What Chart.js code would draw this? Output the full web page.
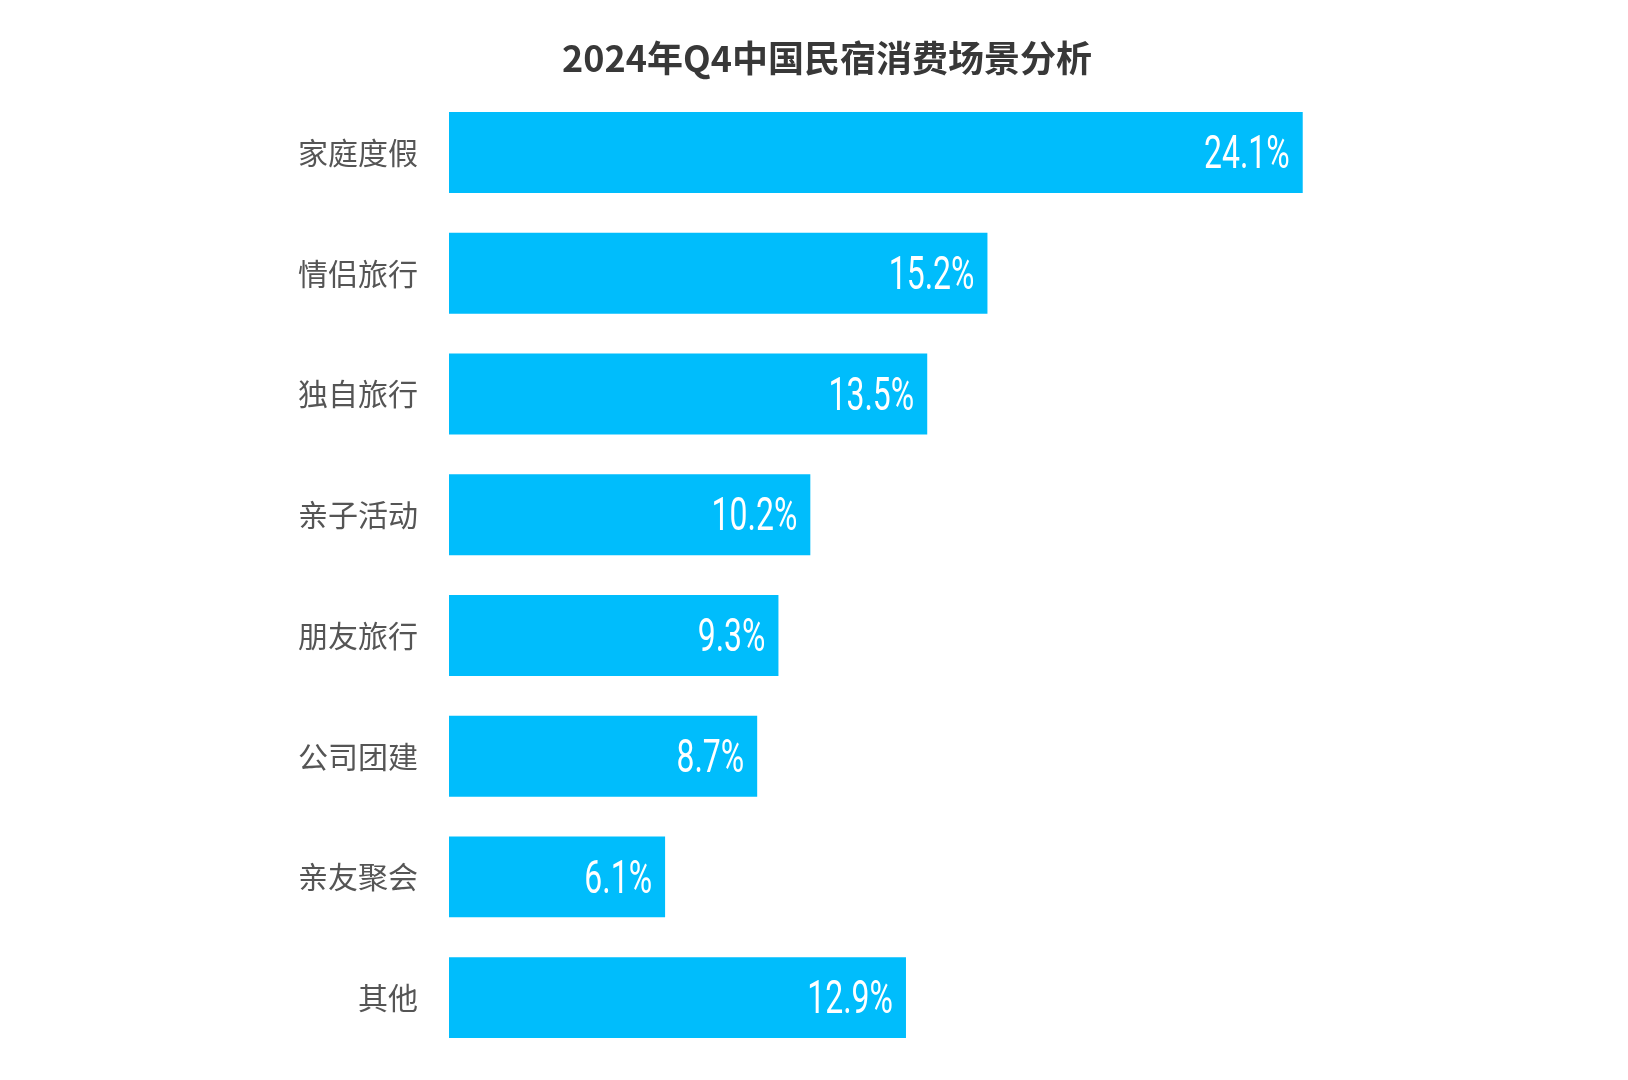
<!DOCTYPE html>
<html>
<head>
<meta charset="utf-8">
<script src="https://cdn.jsdelivr.net/npm/chart.js@4.4.0/dist/chart.umd.min.js"></script>
<style>
  html, body { margin: 0; padding: 0; background: #fff; }
  #wrap { width: 1628px; height: 1080px; }
</style>
</head>
<body>
<div id="wrap"><canvas id="mainChart" width="1628" height="1080"></canvas></div>
<script>
// Chart data
const titleText = '2024年Q4中国民宿消费场景分析';
const scenes = ['家庭度假', '情侣旅行', '独自旅行', '亲子活动', '朋友旅行', '公司团建', '亲友聚会', '其他'];
const shares = [24.1, 15.2, 13.5, 10.2, 9.3, 8.7, 6.1, 12.9];

// Value labels drawn inside the bar end (squeezed to look condensed)
const valueLabels = {
    id: 'valueLabels',
    afterDatasetsDraw(chart) {
        const ctx = chart.ctx;
        const meta = chart.getDatasetMeta(0);
        const squeeze = 0.68;
        meta.data.forEach((bar, i) => {
            ctx.save();
            ctx.translate(bar.x - 13, bar.y + 4);
            ctx.scale(squeeze, 1);
            ctx.fillStyle = '#ffffff';
            ctx.font = '47px Roboto, sans-serif';
            ctx.textAlign = 'right';
            ctx.textBaseline = 'middle';
            ctx.fillText(shares[i].toFixed(1) + '%', 0, 0);
            ctx.restore();
        });
    }
};

const ctx = document.getElementById('mainChart').getContext('2d');
new Chart(ctx, {
    type: 'bar',
    data: {
        labels: scenes,
        datasets: [{
            data: shares,
            backgroundColor: '#00bdfc',
            borderWidth: 0,
            barPercentage: 0.67,
            categoryPercentage: 1
        }]
    },
    options: {
        indexAxis: 'y',
        responsive: false,
        animation: false,
        layout: { padding: { left: 36, right: 10, top: 0, bottom: 22 } },
        plugins: {
            legend: { display: false },
            tooltip: { enabled: false },
            title: {
                display: true,
                text: titleText,
                color: '#383838',
                font: { size: 36, weight: 'bold', family: '"Noto Sans CJK SC", sans-serif' },
                padding: { top: 37, bottom: 12 }
            }
        },
        scales: {
            x: {
                min: 0,
                max: 33,
                afterFit(scale) { scale.height = 0; },
                border: { display: false },
                grid: { display: false, drawTicks: false },
                ticks: { display: false }
            },
            y: {
                afterFit(scale) { scale.width = 413; },
                border: { display: false },
                // tick marks stay hidden; tickLength only spaces labels from the bars
                grid: { display: false, drawTicks: true, tickLength: 31 },
                ticks: {
                    color: '#555555',
                    padding: 0,
                    font: { size: 30, family: '"Noto Sans CJK SC", sans-serif' }
                }
            }
        }
    },
    plugins: [valueLabels]
});
</script>
</body>
</html>
